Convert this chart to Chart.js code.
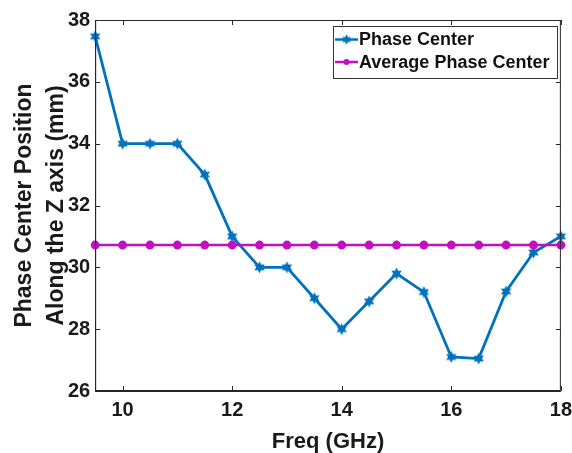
<!DOCTYPE html>
<html>
<head>
<meta charset="utf-8">
<script src="https://cdn.jsdelivr.net/npm/chart.js@4/dist/chart.umd.min.js"></script>
<style>
  html, body { margin: 0; padding: 0; background: #fff; }
  #wrap { width: 572px; height: 453px; }
</style>
</head>
<body>
<div id="wrap"><canvas id="c" width="572" height="453"></canvas></div>
<script>
// Frequency samples (GHz)
const freqs = [9.5, 10, 10.5, 11, 11.5, 12, 12.5, 13, 13.5, 14, 14.5, 15, 15.5, 16, 16.5, 17, 17.5, 18];
// Phase center position along Z (mm)
const phaseCenter = [37.47, 34.0, 34.0, 34.0, 33.0, 31.0, 30.0, 30.0, 29.0, 28.0, 28.9, 29.8, 29.2, 27.1, 27.05, 29.22, 30.48, 31.0];
// Average phase center (mm)
const averageValue = 30.72;
const averageSeries = freqs.map(() => averageValue);
// Axis ticks
const xTicks = [10, 12, 14, 16, 18];
const yTicks = [26, 28, 30, 32, 34, 36, 38];
const seriesNames = ['Phase Center', 'Average Phase Center'];

const BLUE = '#0072BD';
const MAGENTA = '#C010C0';
const AXIS = '#262626';
const FONT = '"Liberation Sans", Arial, sans-serif';

// six-pointed filled star marker
function hexagram(size, color) {
  const cv = document.createElement('canvas');
  cv.width = size; cv.height = size;
  const g = cv.getContext('2d');
  const cx = size / 2, cy = size / 2, ro = size / 2 - 0.5, ri = ro * 0.55;
  g.beginPath();
  for (let i = 0; i < 12; i++) {
    const r = i % 2 === 0 ? ro : ri;
    const a = -Math.PI / 2 + i * Math.PI / 6;
    const px = cx + r * Math.cos(a), py = cy + r * Math.sin(a);
    if (i === 0) g.moveTo(px, py); else g.lineTo(px, py);
  }
  g.closePath();
  g.fillStyle = color;
  g.fill();
  return cv;
}
const starImg = hexagram(13, BLUE);

// inward ticks on all four sides, the top/right box edges and the legend
const boxPlugin = {
  id: 'box',
  afterDraw(chart) {
    const { ctx, chartArea: a, scales } = chart;
    ctx.save();
    ctx.strokeStyle = AXIS;
    ctx.lineWidth = 1;
    ctx.beginPath();
    ctx.rect(a.left + 0.5, a.top + 0.5, a.right - a.left - 1, a.bottom - a.top - 1);
    const tl = 5;
    xTicks.forEach(v => {
      const x = Math.round(scales.x.getPixelForValue(v)) + 0.5;
      ctx.moveTo(x, a.bottom); ctx.lineTo(x, a.bottom - tl);
      ctx.moveTo(x, a.top); ctx.lineTo(x, a.top + tl);
    });
    yTicks.forEach(v => {
      const y = Math.round(scales.y.getPixelForValue(v)) + 0.5;
      ctx.moveTo(a.left, y); ctx.lineTo(a.left + tl, y);
      ctx.moveTo(a.right, y); ctx.lineTo(a.right - tl, y);
    });
    ctx.stroke();

    // legend box
    const lx = 333, ly = 26, lw = 224, lh = 52;
    ctx.fillStyle = '#fff';
    ctx.fillRect(lx, ly, lw, lh);
    ctx.strokeStyle = '#333';
    ctx.strokeRect(lx + 0.5, ly + 0.5, lw, lh);
    const rows = [
      { name: seriesNames[0], color: BLUE, y: 39.5, star: true },
      { name: seriesNames[1], color: MAGENTA, y: 62, star: false }
    ];
    rows.forEach(r => {
      ctx.strokeStyle = r.color;
      ctx.lineWidth = 2.5;
      ctx.beginPath();
      ctx.moveTo(lx + 2, r.y); ctx.lineTo(lx + 25, r.y);
      ctx.stroke();
      if (r.star) {
        ctx.drawImage(starImg, lx + 13.5 - 5.5, r.y - 5.5, 11, 11);
      } else {
        ctx.fillStyle = r.color;
        ctx.beginPath(); ctx.arc(lx + 13.5, r.y, 3, 0, Math.PI * 2); ctx.fill();
      }
      ctx.fillStyle = '#111';
      ctx.font = 'bold 18px ' + FONT;
      ctx.textBaseline = 'middle';
      ctx.textAlign = 'left';
      ctx.fillText(r.name, lx + 26, r.y + 1);
    });
    ctx.restore();
  }
};

// tick marks are drawn by the plugin; the axes' own tick marks are kept
// invisible so that they only reserve the gap between axis and labels
const hiddenGrid = (len) => ({
  display: true,
  drawOnChartArea: false,
  drawTicks: true,
  tickLength: len,
  color: 'rgba(0,0,0,0)',
  tickColor: 'rgba(0,0,0,0)'
});

new Chart(document.getElementById('c'), {
  type: 'line',
  data: {
    datasets: [
      {
        label: seriesNames[1],
        data: freqs.map((f, i) => ({ x: f, y: averageSeries[i] })),
        borderColor: MAGENTA,
        backgroundColor: MAGENTA,
        borderWidth: 2.5,
        pointStyle: 'circle',
        pointRadius: 3.2,
        pointHoverRadius: 3.2,
        tension: 0,
        clip: 6
      },
      {
        label: seriesNames[0],
        data: freqs.map((f, i) => ({ x: f, y: phaseCenter[i] })),
        borderColor: BLUE,
        backgroundColor: BLUE,
        borderWidth: 2.8,
        pointStyle: starImg,
        pointRadius: 6,
        tension: 0,
        clip: 8
      }
    ]
  },
  options: {
    responsive: false,
    animation: false,
    events: [],
    layout: { padding: { left: 4, right: 0, top: 20, bottom: 0 } },
    plugins: { legend: { display: false }, tooltip: { enabled: false } },
    scales: {
      x: {
        type: 'linear',
        min: 9.5,
        max: 18,
        afterBuildTicks(s) { s.ticks = xTicks.map(v => ({ value: v })); },
        grid: hiddenGrid(8),
        border: { display: true, color: AXIS, width: 1 },
        ticks: { color: '#1a1a1a', font: { family: FONT, size: 20, weight: 'bold', lineHeight: 1.15 }, padding: 0, maxRotation: 0 },
        title: { display: true, text: 'Freq (GHz)', color: '#1a1a1a', font: { family: FONT, size: 22, weight: 'bold', lineHeight: 1.0 }, padding: { top: 9, bottom: 0 } }
      },
      y: {
        type: 'linear',
        min: 26,
        max: 38,
        afterBuildTicks(s) { s.ticks = yTicks.map(v => ({ value: v })); },
        grid: hiddenGrid(5),
        border: { display: true, color: AXIS, width: 1 },
        ticks: { color: '#1a1a1a', font: { family: FONT, size: 20, weight: 'bold' }, padding: 0 },
        title: { display: true, text: ['Phase Center Position', 'Along the Z axis (mm)'], color: '#1a1a1a', font: { family: FONT, size: 23, weight: 'bold', lineHeight: 1.39 }, padding: { top: 5, bottom: -5 } }
      }
    }
  },
  plugins: [boxPlugin]
});
</script>
</body>
</html>
